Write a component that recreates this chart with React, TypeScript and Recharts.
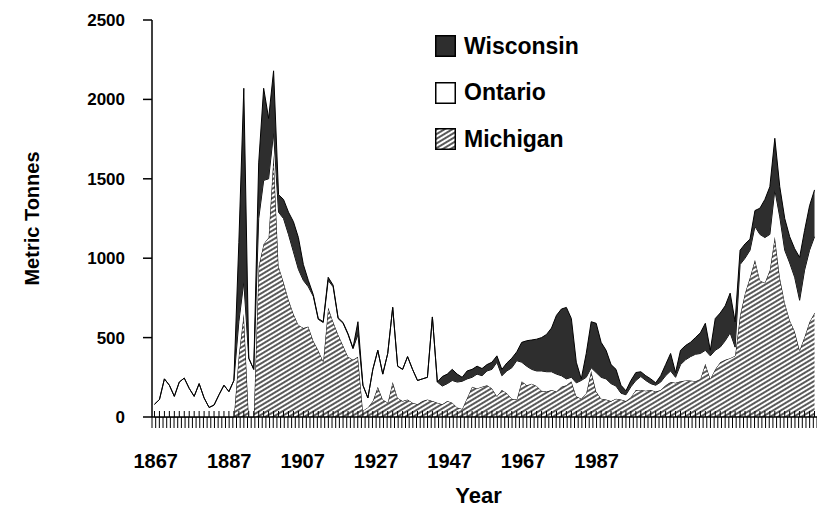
import { AreaChart, Area, Line, XAxis, YAxis, Legend, Label } from 'recharts'

const FONT = '"Liberation Sans", Arial, sans-serif'

const firstYear = 1867

// annual harvest, metric tonnes, 1867-2000
const michigan = [
  0, 0, 0, 0, 0, 0, 0, 0, 0, 0, 0, 0, 0, 0, 0, 0, 0,
  390, 650, 0, 0, 950, 1090, 1130, 1650, 950, 850, 740, 650, 580, 560, 570, 480, 420, 350,
  690, 600, 520, 450, 380, 360, 380, 40, 60, 100, 190, 110, 90, 220, 120, 100, 110, 90,
  80, 100, 110, 100, 90, 80, 100, 90, 60, 50, 120, 190, 180, 190, 200, 180, 130, 170,
  150, 115, 110, 225, 200, 210, 195, 165, 160, 170, 160, 190, 200, 225, 130, 115, 150,
  290, 160, 115, 110, 100, 115, 110, 100, 125, 170, 170, 165, 170, 160, 170, 200, 220,
  215, 225, 230, 230, 225, 240, 335, 240, 300, 345, 360, 370, 385, 640, 780, 880, 990,
  860, 845, 925, 1135, 880, 720, 610, 540, 420, 505, 600, 655,
]

const ontario = [
  80, 110, 240, 200, 130, 220, 245, 180, 130, 210, 120, 60, 75, 140, 200, 160, 230,
  210, 200, 370, 300, 300, 400, 370, 140, 340, 400, 410, 390, 350, 300, 250, 280, 195, 245,
  170, 220, 100, 140, 140, 70, 140, 160, 60, 200, 230, 160, 310, 470, 200, 200, 270, 210,
  150, 140, 140, 530, 130, 115, 110, 140, 160, 175, 120, 60, 90, 70, 90, 120, 215, 90,
  140, 195, 245, 120, 120, 90, 95, 125, 125, 115, 110, 70, 40, 25, 85, 115, 100,
  20, 120, 135, 130, 110, 80, 40, 40, 65, 60, 85, 65, 40, 40, 50, 60, 70,
  35, 105, 130, 150, 170, 160, 85, 145, 120, 95, 120, 160, 55, 320, 220, 170, 210,
  290, 285, 225, 295, 380, 330, 360, 340, 315, 420, 450, 480,
]

const wisconsin = [
  0, 0, 0, 0, 0, 0, 0, 0, 0, 0, 0, 0, 0, 0, 0, 0, 0,
  500, 1220, 0, 0, 350, 580, 380, 390, 110, 120, 140, 190, 200, 100, 40, 10, 5, 5,
  20, 10, 5, 5, 5, 5, 80, 0, 0, 0, 0, 0, 0, 0, 0, 0, 0, 0,
  0, 0, 0, 0, 0, 60, 60, 70, 50, 25, 50, 50, 50, 45, 40, 45, 40, 40,
  50, 60, 55, 125, 160, 185, 200, 210, 235, 275, 370, 420, 450, 370, 130, 10, 150,
  290, 310, 220, 180, 120, 105, 50, 25, 40, 50, 30, 30, 30, 15, 40, 70, 110,
  30, 90, 90, 90, 105, 130, 170, 35, 200, 215, 220, 250, 160, 90, 90, 70, 100,
  165, 240, 300, 325, 190, 200, 165, 180, 270, 250, 280, 295,
]

const yTicks = [0, 500, 1000, 1500, 2000, 2500]
const xTickLabels = ['1867', '1887', '1907', '1927', '1947', '1967', '1987']

const data = michigan.map((m, i) => ({
  year: firstYear + i,
  michigan: m,
  ontario: ontario[i],
  wisconsin: wisconsin[i],
}))
const dataYears = data.map((d) => d.year)
// the labelled axis runs on its own (tighter) yearly scale, as in the original figure
const labelYears = Array.from({ length: 182 }, (_, i) => 1866 + i)

const series = [
  { key: 'wisconsin', name: 'Wisconsin', fill: '#2e2e2e' },
  { key: 'ontario', name: 'Ontario', fill: '#ffffff' },
  { key: 'michigan', name: 'Michigan', fill: 'url(#hatch)' },
]

function LegendBox() {
  return (
    <div style={{ fontFamily: FONT }}>
      {series.map((s) => (
        <div key={s.key} style={{ display: 'flex', alignItems: 'center', height: 46.5 }}>
          <svg width={21} height={22} style={{ display: 'block' }}>
            <rect x={0.75} y={0.75} width={19.5} height={20.5} fill={s.fill} stroke="#000" strokeWidth={1.5} />
          </svg>
          <span style={{ marginLeft: 8, fontSize: 23, fontWeight: 'bold', color: '#000' }}>{s.name}</span>
        </div>
      ))}
    </div>
  )
}

export default function App() {
  return (
    <div style={{ position: 'absolute', left: 0, top: 0, background: '#fff' }}>
      <AreaChart width={817} height={510} data={data} margin={{ top: 20, right: 0, bottom: 0, left: 0 }}>
        <defs>
          <pattern id="hatch" patternUnits="userSpaceOnUse" width={8} height={4} patternTransform="rotate(-31)">
            <rect width={8} height={4} fill="#fff" />
            <line x1={0} y1={2} x2={8} y2={2} stroke="#000" strokeWidth={1.3} />
          </pattern>
        </defs>
        <XAxis
          xAxisId="lab"
          dataKey="year"
          type="number"
          domain={[1866, 2047]}
          allowDataOverflow
          ticks={labelYears}
          interval={0}
          tickFormatter={(v) => (xTickLabels.includes(String(v)) ? String(v) : '')}
          height={93}
          tickSize={11}
          tickMargin={26}
          axisLine={{ stroke: '#000', strokeWidth: 1.5 }}
          tickLine={{ stroke: '#000', strokeWidth: 1 }}
          tick={{ fill: '#000', fontSize: 20, fontWeight: 'bold', fontFamily: FONT }}
        >
          <Label
            content={({ viewBox }: any) => (
              <text
                x={viewBox.x + viewBox.width / 2 - 6}
                y={viewBox.y + 86}
                textAnchor="middle"
                fontSize={22}
                fontWeight="bold"
                fontFamily={FONT}
                fill="#000"
              >
                Year
              </text>
            )}
          />
        </XAxis>
        <XAxis
          xAxisId="data"
          dataKey="year"
          type="number"
          domain={[1866.5, 2000.5]}
          allowDataOverflow
          ticks={dataYears}
          interval={0}
          mirror
          height={1}
          tickFormatter={() => ''}
          tickSize={6}
          axisLine={false}
          tickLine={{ stroke: '#000', strokeWidth: 1 }}
        />
        <YAxis
          domain={[0, 2500]}
          ticks={yTicks}
          width={152}
          tickSize={9}
          tickMargin={18}
          axisLine={{ stroke: '#000', strokeWidth: 1.5 }}
          tickLine={{ stroke: '#000', strokeWidth: 1.5 }}
          tick={{ fill: '#000', fontSize: 17, fontWeight: 'bold', fontFamily: FONT }}
        >
          <Label
            content={({ viewBox }: any) => {
              const cx = viewBox.x + 32
              const cy = viewBox.y + viewBox.height / 2
              return (
                <text
                  x={cx}
                  y={cy}
                  transform={`rotate(-90 ${cx} ${cy})`}
                  textAnchor="middle"
                  dominantBaseline="central"
                  fontSize={20}
                  fontWeight="bold"
                  fontFamily={FONT}
                  fill="#000"
                >
                  Metric Tonnes
                </text>
              )
            }}
          />
        </YAxis>
        <Legend
          layout="vertical"
          align="center"
          verticalAlign="middle"
          wrapperStyle={{ left: 435, top: 23, width: 200, height: 140 }}
          content={() => <LegendBox />}
        />
        <Area
          xAxisId="data"
          type="linear"
          dataKey="michigan"
          name="Michigan"
          stackId="lake"
          fill="url(#hatch)"
          fillOpacity={1}
          stroke="#000"
          strokeWidth={1}
          dot={false}
          activeDot={false}
          isAnimationActive={false}
        />
        <Area
          xAxisId="data"
          type="linear"
          dataKey="ontario"
          name="Ontario"
          stackId="lake"
          fill="#ffffff"
          fillOpacity={1}
          stroke="#000"
          strokeWidth={1}
          dot={false}
          activeDot={false}
          isAnimationActive={false}
        />
        <Area
          xAxisId="data"
          type="linear"
          dataKey="wisconsin"
          name="Wisconsin"
          stackId="lake"
          fill="#2e2e2e"
          fillOpacity={1}
          stroke="#000"
          strokeWidth={1}
          dot={false}
          activeDot={false}
          isAnimationActive={false}
        />
        {/* keeps the labelled year axis bound to the data so that it gets a scale */}
        <Line
          xAxisId="lab"
          dataKey="michigan"
          stroke="none"
          dot={false}
          activeDot={false}
          legendType="none"
          isAnimationActive={false}
        />
      </AreaChart>
    </div>
  )
}
